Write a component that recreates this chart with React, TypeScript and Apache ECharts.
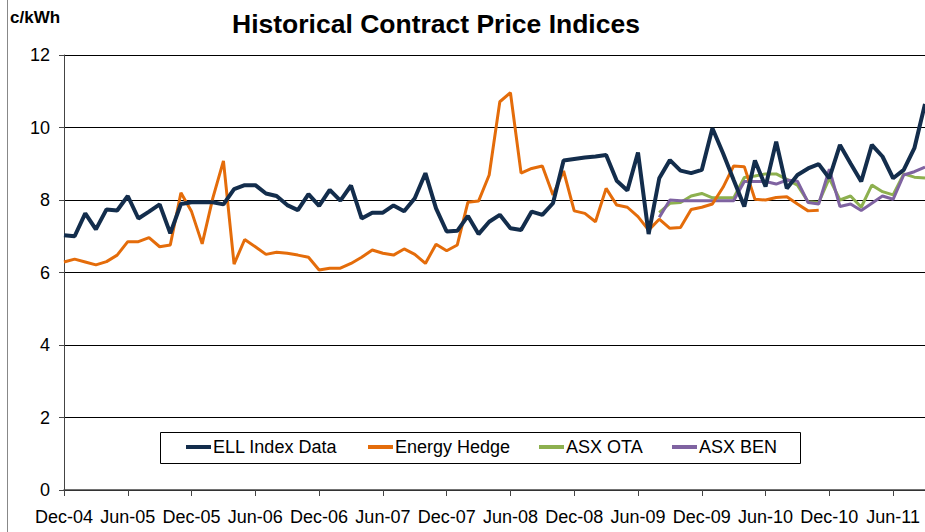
import React, { useEffect, useRef } from "react";
import * as echarts from "echarts";

const monthNames = ["Jan", "Feb", "Mar", "Apr", "May", "Jun", "Jul", "Aug", "Sep", "Oct", "Nov", "Dec"];

// Monthly values, first month = Dec-04
const ellIndex = [
  7.03, 7.0, 7.63, 7.19, 7.74, 7.71, 8.11, 7.49, 7.68, 7.88, 7.08, 7.89,
  7.94, 7.94, 7.94, 7.88, 8.3, 8.41, 8.41, 8.18, 8.11, 7.86, 7.72, 8.16,
  7.84, 8.28, 7.98, 8.4, 7.49, 7.65, 7.65, 7.85, 7.69, 8.05, 8.74, 7.77,
  7.13, 7.15, 7.56, 7.06, 7.4, 7.59, 7.22, 7.17, 7.68, 7.59, 7.91, 9.09,
  9.13, 9.17, 9.2, 9.24, 8.53, 8.26, 9.31, 7.06, 8.6, 9.1, 8.81, 8.74,
  8.83, 9.98, 9.29, 8.55, 7.82, 9.09, 8.37, 9.61, 8.32, 8.69, 8.87, 8.99,
  8.6, 9.52, 9.01, 8.51, 9.52, 9.2, 8.6, 8.83, 9.43, 10.65,
];
const energyHedge = [
  6.29, 6.37, 6.29, 6.21, 6.3, 6.48, 6.85, 6.85, 6.96, 6.71, 6.76, 8.2,
  7.68, 6.79, 8.05, 9.08, 6.23, 6.91, 6.71, 6.5, 6.56, 6.53, 6.48, 6.42,
  6.07, 6.12, 6.12, 6.25, 6.42, 6.62, 6.53, 6.48, 6.65, 6.5, 6.25, 6.78,
  6.6, 6.76, 7.94, 7.97, 8.69, 10.71, 10.96, 8.74, 8.87, 8.94, 8.14, 8.8,
  7.7, 7.63, 7.4, 8.32, 7.86, 7.8, 7.54, 7.17, 7.47, 7.22, 7.24, 7.74,
  7.8, 7.89, 8.35, 8.94, 8.92, 8.02, 8.0, 8.07, 8.09, 7.89, 7.7, 7.72,
];
// ASX series start at Aug-09 (month index 56)
const asxStartIndex = 56;
const asxOta = [
  7.65, 7.91, 7.93, 8.11, 8.18, 8.06, 8.06, 8.06, 8.62, 8.66, 8.72, 8.72,
  8.57, 8.41, 7.95, 7.93, 8.6, 8.0, 8.11, 7.8, 8.41, 8.23, 8.14, 8.72,
  8.63, 8.61,
];
const asxBen = [
  7.52, 8.0, 7.98, 7.98, 7.98, 7.98, 7.98, 7.98, 8.51, 8.51, 8.51, 8.44,
  8.55, 8.52, 7.93, 7.89, 8.85, 7.82, 7.89, 7.71, 7.91, 8.11, 8.02, 8.69,
  8.78, 8.91,
];

const seriesNames = ["ELL Index Data", "Energy Hedge", "ASX OTA", "ASX BEN"];
const seriesColors = ["#132d4c", "#e46c0a", "#8db04f", "#7f63a1"];
const legendLefts = [186, 368, 539, 672];

const months: string[] = ellIndex.map((_, i) => {
  const m = (11 + i) % 12;
  const y = 2004 + Math.floor((11 + i) / 12);
  return `${monthNames[m]}-${String(y % 100).padStart(2, "0")}`;
});

const pad = (arr: number[], start: number) => [
  ...new Array(start).fill(null),
  ...arr,
];

const FONT = "'Liberation Sans', Arial, sans-serif";

export default function App() {
  const ref = useRef<HTMLDivElement>(null);
  useEffect(() => {
    document.body.style.margin = "0";
    if (!ref.current) return;
    const chart = echarts.init(ref.current, undefined, { renderer: "svg" });
    const seriesData = [ellIndex, energyHedge, pad(asxOta, asxStartIndex), pad(asxBen, asxStartIndex)];
    chart.setOption({
      animation: false,
      backgroundColor: "#ffffff",
      textStyle: { fontFamily: FONT },
      graphic: [
        {
          type: "text",
          x: 232,
          y: 24,
          style: {
            text: "Historical Contract Price Indices",
            font: `bold 26.5px ${FONT}`,
            fill: "#000",
            verticalAlign: "middle",
          },
        },
        {
          type: "text",
          x: 10,
          y: 17,
          style: { text: "c/kWh", font: `bold 17px ${FONT}`, fill: "#000", verticalAlign: "middle" },
        },
        {
          type: "line",
          shape: { x1: 7.5, y1: 0, x2: 7.5, y2: 532 },
          style: { stroke: "#888", lineWidth: 1 },
        },
        {
          type: "rect",
          shape: { x: 160.5, y: 432.5, width: 640, height: 31 },
          style: { fill: "#fff", stroke: "#000", lineWidth: 1 },
          z: 10,
        },
      ],
      legend: seriesNames.map((name, i) => ({
        left: legendLefts[i],
        top: 438,
        z: 20,
        padding: 0,
        icon: "rect",
        itemWidth: 25,
        itemHeight: 4,
        textStyle: { fontFamily: FONT, fontSize: 18, color: "#000", padding: [0, 0, 0, -3] },
        data: [name],
      })),
      grid: { left: 64, right: -2, top: 55, bottom: 42 },
      xAxis: {
        type: "category",
        data: months,
        boundaryGap: false,
        axisLine: { lineStyle: { color: "#444", width: 1.5 } },
        axisTick: { show: true, interval: 5, length: 6, lineStyle: { color: "#444" } },
        axisLabel: { interval: 5, fontSize: 18, color: "#000", margin: 18, fontFamily: FONT },
        splitLine: { show: false },
      },
      yAxis: {
        type: "value",
        min: 0,
        max: 12,
        interval: 2,
        axisLine: { show: true, lineStyle: { color: "#444" } },
        axisTick: { show: true, length: 5, lineStyle: { color: "#444" } },
        axisLabel: { fontSize: 18, color: "#000", margin: 14, fontFamily: FONT },
        splitLine: { lineStyle: { color: "#000", width: 1 } },
      },
      series: seriesNames.map((name, i) => ({
        name,
        type: "line",
        data: seriesData[i],
        showSymbol: false,
        itemStyle: { color: seriesColors[i] },
        lineStyle: { color: seriesColors[i], width: i === 0 ? 4 : 3 },
        z: 5 - Math.min(i, 2),
      })),
    });
    return () => chart.dispose();
  }, []);
  return <div ref={ref} style={{ width: 925, height: 532 }} />;
}
